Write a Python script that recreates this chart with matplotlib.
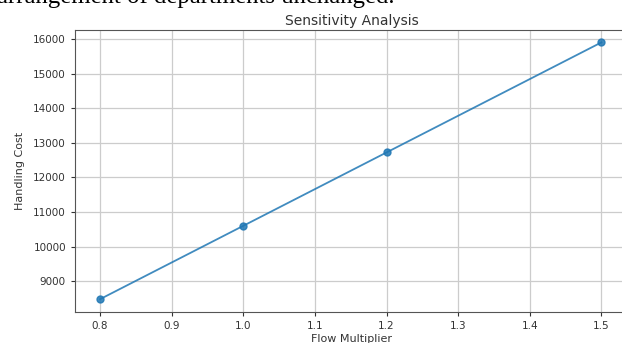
import matplotlib
matplotlib.use('Agg')
import matplotlib.pyplot as plt

# sensitivity of handling cost to flow multiplier
multipliers = [0.8, 1.0, 1.2, 1.5]
costs = [8480, 10600, 12720, 15900]

fig = plt.figure(figsize=(6.22, 3.43), dpi=100)
ax = fig.add_axes([0.1206, 0.0904, 0.8900, 0.8234])

ax.plot(multipliers, costs, marker='o', color='#1f77b4', linewidth=1.3, markersize=5, alpha=0.85)
ax.set_xlim(0.765, 1.538)
ax.set_title('Sensitivity Analysis', fontsize=10, pad=3, color='#333333')
ax.set_xlabel('Flow Multiplier', fontsize=8, labelpad=2, color='#333333')
ax.set_ylabel('Handling Cost', fontsize=8, labelpad=6, color='#333333')
ax.tick_params(labelsize=7.5, colors='#333333', length=3)
ax.grid(True, color='#cccccc', linewidth=0.9)
for s in ax.spines.values():
    s.set_color('#555555')

# bit of the surrounding document text, cut off at the top
fig.text(-0.005, 0.991, 'arrangement of departments unchanged.', family='Liberation Serif',
         fontsize=17.8, va='baseline', ha='left', color='black')

fig.savefig('out.png', dpi=100)
